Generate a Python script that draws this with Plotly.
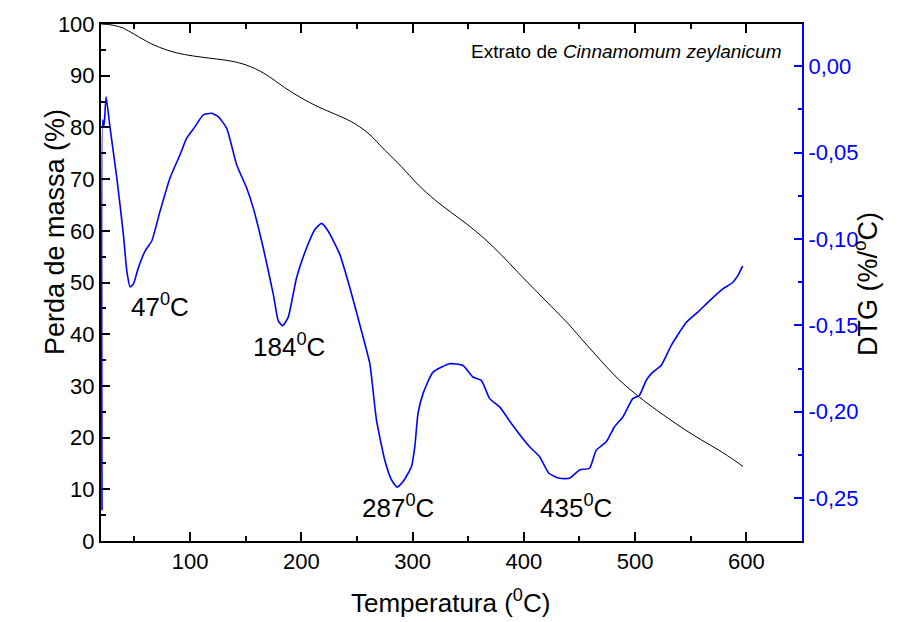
import plotly.graph_objects as go

# TG curve (mass loss, %) vs temperature (°C)
tg_temp = [20, 30, 40, 50, 65, 80, 95, 110, 125, 140, 155, 170, 185, 200, 215, 230, 245,
           260, 275, 290, 305, 320, 335, 350, 365, 380, 395, 410, 425, 440, 455, 470, 485,
           500, 515, 530, 545, 560, 575, 590, 597]
tg_mass = [100.0, 99.8, 99.2, 98.0, 96.2, 94.9, 94.1, 93.6, 93.2, 92.7, 91.7, 90.0, 87.7,
           85.7, 84.0, 82.6, 81.1, 78.9, 75.6, 72.4, 68.9, 66.0, 63.5, 61.1, 58.4, 55.3,
           51.9, 48.6, 45.3, 42.0, 38.3, 34.7, 31.3, 28.5, 26.0, 23.7, 21.5, 19.5, 17.6,
           15.5, 14.4]

# DTG curve (%/°C) vs temperature (°C)
dtg_temp = [20.9, 21.4, 22.4, 23.2, 24.6, 28.2, 34.2, 40.1, 43.2, 46.1, 49.1, 53.6, 59.6,
            65.6, 73.1, 82.0, 91.0, 97.0, 104.5, 111.9, 119.5, 125.4, 132.9, 141.9, 150.9,
            156.8, 165.8, 174.8, 179.3, 183.2, 188.2, 195.8, 204.8, 212.2, 218.2, 224.1,
            234.6, 243.6, 255.6, 261.6, 267.6, 275.0, 281.1, 286.1, 291.5, 299.0, 302.0,
            304.9, 309.4, 318.4, 333.4, 345.3, 354.3, 361.8, 369.3, 378.3, 388.8, 405.2,
            414.2, 422.5, 432.1, 441.1, 450.1, 459.1, 465.1, 474.1, 481.5, 489.0, 497.9,
            503.9, 510.0, 515.9, 523.4, 532.4, 545.9, 557.8, 566.8, 578.7, 587.7, 592.2,
            596.7]
dtg_val = [-0.257, -0.031, -0.035, -0.031, -0.0177, -0.0359, -0.0647, -0.0973, -0.1185,
           -0.1277, -0.1261, -0.1166, -0.1070, -0.1012, -0.0839, -0.0647, -0.0513, -0.0417,
           -0.0350, -0.0282, -0.0273, -0.0292, -0.0359, -0.0570, -0.0705, -0.0820, -0.1051,
           -0.1319, -0.1473, -0.1502, -0.1454, -0.1223, -0.1051, -0.0945, -0.0910, -0.0954,
           -0.1089, -0.1281, -0.1569, -0.1722, -0.2049, -0.2279, -0.2394, -0.2436, -0.2404,
           -0.2318, -0.2203, -0.2010, -0.1895, -0.1771, -0.1722, -0.1732, -0.1799, -0.1818,
           -0.1924, -0.1972, -0.2068, -0.2203, -0.2260, -0.2356, -0.2385, -0.2385, -0.2337,
           -0.2327, -0.2222, -0.2174, -0.2087, -0.2030, -0.1924, -0.1905, -0.1818, -0.1771,
           -0.1732, -0.1617, -0.1483, -0.1415, -0.1358, -0.1290, -0.1252, -0.1214, -0.1156]

# Peak labels
peak_text = ["47<sup>0</sup>C", "184<sup>0</sup>C", "287<sup>0</sup>C", "435<sup>0</sup>C"]
peak_x = [73, 189, 287, 447]
peak_y = [45.5, 37.8, 6.6, 6.6]

# Axis ticks
x_ticks = [100, 200, 300, 400, 500, 600]
y_ticks = [0, 10, 20, 30, 40, 50, 60, 70, 80, 90, 100]
y2_ticks = [0.0, -0.05, -0.10, -0.15, -0.20, -0.25]
y2_labels = ["0,00", "-0,05", "-0,10", "-0,15", "-0,20", "-0,25"]

FONT = "Liberation Sans, Arial, sans-serif"
BLUE = "#0000FF"

fig = go.Figure()
fig.add_trace(go.Scatter(x=tg_temp, y=tg_mass, mode="lines", yaxis="y",
                         line=dict(color="black", width=1, shape="spline", smoothing=1.0),
                         showlegend=False, hoverinfo="skip"))
fig.add_trace(go.Scatter(x=dtg_temp, y=dtg_val, mode="lines", yaxis="y2",
                         line=dict(color=BLUE, width=1.6, shape="spline", smoothing=0.5),
                         showlegend=False, hoverinfo="skip", cliponaxis=False))

for t, x, y in zip(peak_text, peak_x, peak_y):
    fig.add_annotation(x=x, y=y, xref="x", yref="y", text=t, showarrow=False,
                       font=dict(family=FONT, size=26, color="black"))

fig.add_annotation(x=0.973, y=0.946, xref="paper", yref="paper",
                   text="Extrato de <i>Cinnamomum zeylanicum</i>", showarrow=False,
                   xanchor="right", yanchor="middle",
                   font=dict(family=FONT, size=19, color="black"))
fig.add_annotation(x=-0.0899, y=0.5975, xref="paper", yref="paper",
                   text="Perda de massa (%)", showarrow=False, textangle=-90,
                   font=dict(family=FONT, size=27, color="black"))
fig.add_annotation(x=0.498, y=-0.152, xref="paper", yref="paper",
                   text="Temperatura (<sup>0</sup>C)", showarrow=False,
                   yanchor="bottom",
                   font=dict(family=FONT, size=26, color="black"))
fig.add_annotation(x=1.1184, y=0.497, xref="paper", yref="paper",
                   text="DTG (%/<sup>o</sup>C)", showarrow=False, textangle=-90,
                   font=dict(family=FONT, size=27, color="black"))

fig.update_layout(
    width=903, height=622,
    margin=dict(l=101, r=101, t=22, b=81),
    paper_bgcolor="white", plot_bgcolor="white",
    font=dict(family=FONT, color="black"),
    xaxis=dict(range=[20, 650], tickmode="array", tickvals=x_ticks,
               ticks="inside", ticklen=9, tickwidth=2, tickcolor="black",
               showline=True, linewidth=2, linecolor="black", mirror="ticks",
               showgrid=False, zeroline=False, layer="below traces",
               tickfont=dict(family=FONT, size=22, color="black"),
               minor=dict(dtick=50, tick0=0, ticks="inside", ticklen=5,
                          tickwidth=2, tickcolor="black", showgrid=False)),
    yaxis=dict(range=[0, 100], tickmode="array", tickvals=y_ticks,
               ticks="inside", ticklen=9, tickwidth=2, tickcolor="black",
               showline=True, linewidth=2, linecolor="black", mirror=False,
               showgrid=False, zeroline=False, layer="below traces",
               tickfont=dict(family=FONT, size=22, color="black"),
               minor=dict(dtick=5, tick0=0, ticks="inside", ticklen=5,
                          tickwidth=2, tickcolor="black", showgrid=False)),
    yaxis2=dict(range=[-0.2748, 0.0244], overlaying="y", side="right",
                tickmode="array", tickvals=y2_ticks, ticktext=y2_labels,
                ticks="inside", ticklen=8, tickwidth=2, tickcolor=BLUE,
                showline=True, linewidth=2, linecolor=BLUE,
                showgrid=False, zeroline=False,
                tickfont=dict(family=FONT, size=22, color=BLUE),
                minor=dict(dtick=0.025, tick0=0, ticks="inside", ticklen=4,
                           tickwidth=2, tickcolor=BLUE, showgrid=False)),
)

fig.write_html("out.html")
